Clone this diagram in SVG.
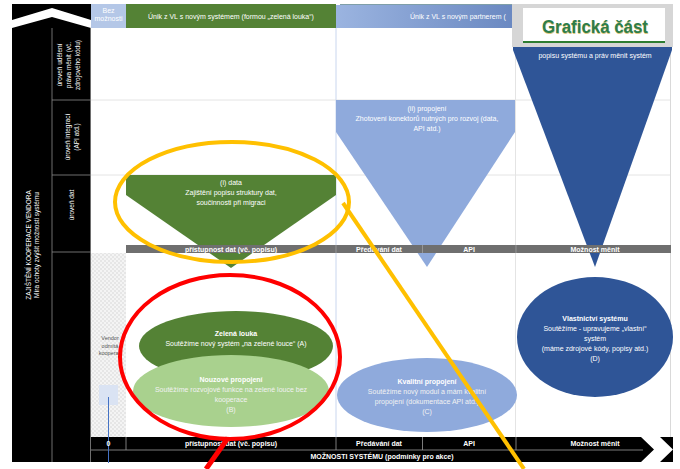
<svg xmlns="http://www.w3.org/2000/svg" width="680" height="469" viewBox="0 0 680 469">
<defs>
<linearGradient id="hdrBlue" x1="0" y1="0" x2="1" y2="0">
<stop offset="0" stop-color="#9bb4e0"/>
<stop offset="1" stop-color="#3f62a6"/>
</linearGradient>
<pattern id="hatch" width="4" height="4" patternUnits="userSpaceOnUse">
<rect width="4" height="4" fill="#f4f4f4"/>
<rect width="2" height="2" fill="#e6e6e6"/>
<rect x="2" y="2" width="2" height="2" fill="#e6e6e6"/>
</pattern>
<style>
text{font-family:"Liberation Sans",Arial,sans-serif;}
.w{fill:#ffffff;font-size:7px;text-anchor:middle;}
.wb{fill:#ffffff;font-size:7px;font-weight:bold;text-anchor:middle;}
.lw{fill:#f2f2f2;font-size:7px;text-anchor:middle;}
.lbl{fill:#ffffff;font-size:6.5px;text-anchor:middle;}
.grid{stroke:#e4e4e4;stroke-width:1;fill:none;}
.sep{stroke:#8a8a8a;stroke-width:0.8;}
</style>
</defs>
<rect width="680" height="469" fill="#ffffff"/>

<g id="frame">
<rect x="12" y="4" width="79" height="458" fill="#000000"/>
<polygon points="12,20 52,8 91,20 91,28 52,17 12,28" fill="#ffffff"/>
<line x1="52" y1="28" x2="52" y2="462" class="sep"/>
<line x1="52" y1="100" x2="91" y2="100" class="sep"/>
<line x1="52" y1="175" x2="91" y2="175" class="sep"/>
<line x1="52" y1="252" x2="91" y2="252" class="sep"/>
<line x1="90.5" y1="28" x2="90.5" y2="462" class="sep"/>
<text transform="translate(31,245) rotate(-90)" class="lbl" font-size="6px">ZAJIŠTĚNÍ KOOPERACE VENDORA</text>
<text transform="translate(39,245) rotate(-90)" class="lbl" font-size="6px">Míra ochoty zvýšit možnosti systému</text>
<text transform="translate(62,65) rotate(-90)" class="lbl">úroveň udělení</text>
<text transform="translate(71,65) rotate(-90)" class="lbl">práva měnit (vč.</text>
<text transform="translate(80,65) rotate(-90)" class="lbl">zdrojového kódu)</text>
<text transform="translate(70,137) rotate(-90)" class="lbl">úroveň integrací</text>
<text transform="translate(79,137) rotate(-90)" class="lbl">(API atd.)</text>
<text transform="translate(74,205) rotate(-90)" class="lbl">úroveň dat</text>
</g>

<g id="grid">
<line x1="340" y1="4.5" x2="672" y2="4.5" stroke="#7f9fa8" stroke-width="1"/>
<line x1="91" y1="100" x2="670" y2="100" class="grid"/>
<line x1="91" y1="175" x2="670" y2="175" class="grid"/>
<line x1="336" y1="28" x2="336" y2="437" stroke="#c9d6ee" stroke-width="1"/>
<line x1="515.5" y1="28" x2="515.5" y2="437" class="grid"/>
<line x1="670.5" y1="4" x2="670.5" y2="437" stroke="#d9d9d9" stroke-width="1"/>
<rect x="91" y="253" width="35" height="184" fill="url(#hatch)"/>
</g>

<g id="header">
<rect x="91" y="4" width="35" height="24" fill="#b4c7e7"/>
<text x="108.5" y="13" class="w" font-size="5px">Bez</text>
<text x="108.5" y="21" class="w" font-size="5px">možnosti</text>
<rect x="126" y="4" width="210" height="24" fill="#548235"/>
<text x="231" y="18.5" class="w">Únik z VL s novým systémem (formou „zelená louka“)</text>
<rect x="336" y="5" width="334" height="23" fill="url(#hdrBlue)"/>
<text x="410" y="18.5" fill="#ffffff" font-size="7px">Únik z VL s novým partnerem (</text>
</g>

<g id="node-data">
<polygon points="126,175 336,175 336,195 231,268 126,195" fill="#548235"/>
<text x="231" y="184.5" class="w">(i) data</text>
<text x="231" y="195" class="w">Zajištění popisu struktury dat,</text>
<text x="231" y="205" class="w">součinnosti při migraci</text>
</g>

<g id="node-propojeni">
<polygon points="336,100 515,100 515,132 427,267 336,132" fill="#8faadc"/>
<text x="427" y="110.5" class="w">(ii) propojení</text>
<text x="427" y="120.5" class="w">Zhotovení konektorů nutných pro rozvoj (data,</text>
<text x="427" y="130.5" class="w">API atd.)</text>
</g>

<g id="node-zdroj">
<polygon points="513,28 672,28 672,50 595,267 513,50" fill="#2f5597"/>
<text x="595" y="57.5" class="w">popisu systému a práv měnit systém</text>
</g>

<g id="bar-mid">
<rect x="126" y="245" width="545" height="8" fill="#6f6f6f"/>
<line x1="336" y1="245" x2="336" y2="253" stroke="#a0a0a0" stroke-width="0.8"/>
<line x1="422.5" y1="245" x2="422.5" y2="253" stroke="#a0a0a0" stroke-width="0.8"/>
<line x1="516" y1="245" x2="516" y2="253" stroke="#a0a0a0" stroke-width="0.8"/>
<text x="231" y="251.5" class="wb" font-size="6.5px">přístupnost dat (vč. popisu)</text>
<text x="379" y="251.5" class="wb" font-size="6.5px">Předávání dat</text>
<text x="469" y="251.5" class="wb" font-size="6.5px">API</text>
<text x="595" y="251.5" class="wb" font-size="6.5px">Možnost měnit</text>
</g>

<g id="node-vendor">
<text x="110" y="340" fill="#555555" font-size="5.5px" text-anchor="middle">Vendor</text>
<text x="110" y="347.5" fill="#555555" font-size="5.5px" text-anchor="middle">odmítá</text>
<text x="110" y="355" fill="#555555" font-size="5.5px" text-anchor="middle">kooperac</text>
<rect x="99" y="385" width="19" height="20" fill="#dae3f3"/>
<line x1="108.5" y1="397" x2="108.5" y2="463" stroke="#4472c4" stroke-width="1"/>
</g>

<g id="node-A">
<ellipse cx="236" cy="346" rx="97" ry="35" fill="#548235"/>
<text x="236" y="335.5" class="wb">Zelená louka</text>
<text x="236" y="345.5" class="w">Soutěžíme nový systém „na zelené louce“ (A)</text>
</g>

<g id="node-B">
<ellipse cx="231" cy="391" rx="98" ry="36" fill="#a9d18e"/>
<text x="231" y="381.5" class="wb" fill="#f4f4f4">Nouzové propojení</text>
<text x="231" y="391.5" class="lw">Soutěžíme  rozvojové funkce na zelené louce bez</text>
<text x="231" y="401.5" class="lw">kooperace</text>
<text x="231" y="411.5" class="lw">(B)</text>
</g>

<g id="node-C">
<ellipse cx="427" cy="395" rx="90" ry="37" fill="#8faadc"/>
<text x="427" y="383.5" class="wb" fill="#f4f4f4">Kvalitní propojení</text>
<text x="427" y="393.5" class="lw">Soutěžíme nový modul a mám kvalitní</text>
<text x="427" y="403.5" class="lw">propojení (dokumentace API atd.)</text>
<text x="427" y="413.5" class="lw">(C)</text>
</g>

<g id="node-D">
<ellipse cx="595" cy="337" rx="78" ry="60" fill="#2f5597"/>
<text x="595" y="320.5" class="wb">Vlastnictví systému</text>
<text x="595" y="330.5" class="w">Soutěžíme - upravujeme „vlastní“</text>
<text x="595" y="340.5" class="w">systém</text>
<text x="595" y="350.5" class="w">(máme zdrojové kódy, popisy atd.)</text>
<text x="595" y="360.5" class="w">(D)</text>
</g>

<g id="bar-bottom">
<rect x="91" y="437" width="582" height="25" fill="#000000"/>
<polygon points="641,437 660,437 673,449.5 660,462 641,462 654,449.5" fill="#ffffff"/>
<line x1="91" y1="450" x2="643" y2="450" stroke="#9a9a9a" stroke-width="0.8"/>
<line x1="126" y1="437" x2="126" y2="450" stroke="#9a9a9a" stroke-width="0.8"/>
<line x1="336" y1="437" x2="336" y2="450" stroke="#9a9a9a" stroke-width="0.8"/>
<line x1="422.5" y1="437" x2="422.5" y2="450" stroke="#9a9a9a" stroke-width="0.8"/>
<line x1="516" y1="437" x2="516" y2="450" stroke="#9a9a9a" stroke-width="0.8"/>
<line x1="108.5" y1="437" x2="108.5" y2="463" stroke="#4472c4" stroke-width="1"/>
<text x="108.5" y="446" class="wb" font-size="6.5px">0</text>
<text x="231" y="446" class="wb" font-size="6.5px">přístupnost dat (vč. popisu)</text>
<text x="379" y="446" class="wb" font-size="6.5px">Předávání dat</text>
<text x="469" y="446" class="wb" font-size="6.5px">API</text>
<text x="595" y="446" class="wb" font-size="6.5px">Možnost měnit</text>
<text x="382" y="458.5" class="wb" font-size="6.5px">MOŽNOSTI SYSTÉMU (podmínky pro akce)</text>
</g>

<g id="title">
<rect x="512" y="4" width="161" height="43" fill="#d6d6d6"/>
<rect x="523" y="8" width="142" height="34" fill="#ffffff"/>
<line x1="523" y1="42" x2="665" y2="42" stroke="#2e7d32" stroke-width="2"/>
<text x="595.5" y="33.5" font-size="18px" font-weight="bold" fill="#c9a227" text-anchor="middle" textLength="106" lengthAdjust="spacingAndGlyphs" opacity="0.6">Grafická část</text>
<text x="595" y="33" font-size="18px" font-weight="bold" fill="#2e7d4a" text-anchor="middle" textLength="106" lengthAdjust="spacingAndGlyphs">Grafická část</text>
</g>

<g id="connectors">
<ellipse cx="232" cy="202" rx="117" ry="60" fill="none" stroke="#ffc000" stroke-width="4"/>
<line x1="343" y1="203" x2="524" y2="469" stroke="#ffc000" stroke-width="4"/>
<ellipse cx="230" cy="357" rx="110" ry="82" fill="none" stroke="#ff0000" stroke-width="4"/>
<line x1="228" y1="438" x2="206" y2="469" stroke="#ff0000" stroke-width="5"/>
</g>
</svg>
